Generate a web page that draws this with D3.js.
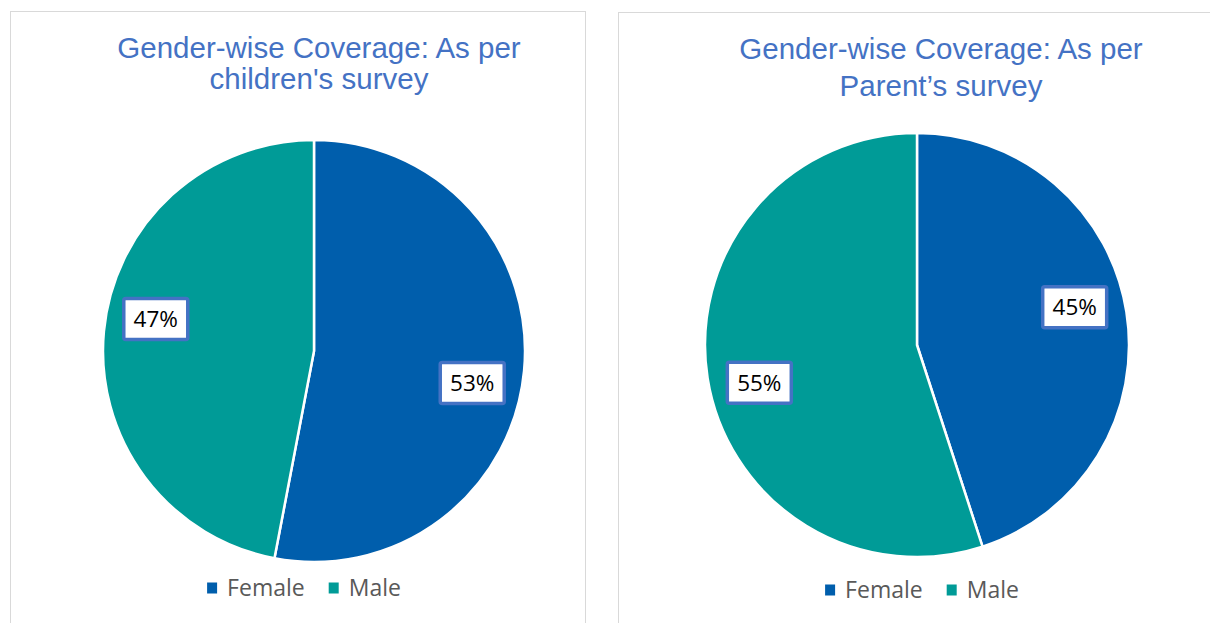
<!DOCTYPE html>
<html><head><meta charset="utf-8">
<script src="https://cdn.jsdelivr.net/npm/d3@7"></script>
<style>body{margin:0;background:#fff}svg{display:block}</style>
</head><body>
<script>
const categories = ["Female", "Male"];
const childrenValues = [53, 47];
const parentValues = [45, 55];
const titles = [["Gender-wise Coverage: As per", "children's survey"], ["Gender-wise Coverage: As per", "Parent\u2019s survey"]];
const colors = ["#005EAC", "#009B97"];

const W = 1210, H = 623;
const svg = d3.select("body").append("svg").attr("width", W).attr("height", H);

const panels = [
  {x: 10, y: 11, w: 575, cx: 314, cy: 351, r: 211, tx: 319, ty1: 58, ty2: 89, lx: 304, ly: 588, rot: 6, values: childrenValues, title: titles[0]},
  {x: 618, y: 12, w: 600, cx: 917, cy: 345, r: 212, tx: 941, ty1: 59, ty2: 96, lx: 922, ly: 590, rot: -4.5, values: parentValues, title: titles[1]}
];

const color = d3.scaleOrdinal().domain(categories).range(colors);

panels.forEach(p => {
  const g = svg.append("g");
  g.append("rect").attr("x", p.x + 0.5).attr("y", p.y + 0.5).attr("width", p.w).attr("height", H)
    .attr("fill", "#fff").attr("stroke", "#d9d9d9").attr("stroke-width", 1);

  [p.title[0], p.title[1]].forEach((line, i) => {
    g.append("text").attr("text-anchor", "middle").attr("fill", "#4472C4")
      .attr("x", p.tx).attr("y", i === 0 ? p.ty1 : p.ty2)
      .style("font-family", "'Liberation Sans', Arial, sans-serif").style("font-size", "29.5px")
      .text(line);
  });

  const data = categories.map((c, i) => ({cat: c, value: p.values[i]}));
  const pie = d3.pie().sort(null).value(d => d.value);
  const arcs = pie(data);
  const arc = d3.arc().innerRadius(0).outerRadius(p.r);
  const pg = g.append("g").attr("transform", `translate(${p.cx},${p.cy})`);
  pg.selectAll("path").data(arcs).join("path")
    .attr("d", arc).attr("fill", d => color(d.data.cat))
    .attr("stroke", "#fff").attr("stroke-width", 2.5).attr("stroke-linejoin", "round");

  const lr = p.r * 0.765;
  const rotRad = p.rot * Math.PI / 180;
  const lg = pg.selectAll("g.lbl").data(arcs).join("g").attr("class", "lbl")
    .attr("transform", d => {
      const a = (d.startAngle + d.endAngle) / 2 + rotRad;
      return `translate(${lr * Math.sin(a)},${-lr * Math.cos(a)})`;
    });
  lg.append("rect").attr("x", -32).attr("y", -20.5).attr("width", 64).attr("height", 41).attr("rx", 2)
    .attr("fill", "#fff").attr("stroke", "#4472C4").attr("stroke-width", 3.5);
  lg.append("text").attr("text-anchor", "middle").attr("dy", "0.36em").attr("fill", "#000")
    .style("font-family", "'Open Sans', 'Noto Sans', sans-serif").style("font-size", "22.5px")
    .text(d => d.data.value + "%");

  // legend
  const leg = g.append("g").attr("transform", `translate(${p.lx},${p.ly})`);
  const items = leg.selectAll("g").data(categories).join("g");
  items.append("rect").attr("width", 10).attr("height", 11).attr("y", -5.5).attr("fill", d => color(d));
  items.append("text").attr("x", 20).attr("dy", "0.36em").attr("fill", "#595959")
    .style("font-family", "'Open Sans', 'Noto Sans', sans-serif").style("font-size", "23px").text(d => d);
  let x = 0; const widths = [];
  items.each(function() { widths.push(this.getBBox().width); });
  const gap = 24;
  const total = d3.sum(widths) + gap * (widths.length - 1);
  x = -total / 2;
  items.attr("transform", (d, i) => { const tx = x; x += widths[i] + gap; return `translate(${tx},0)`; });
});
</script>
</body></html>
